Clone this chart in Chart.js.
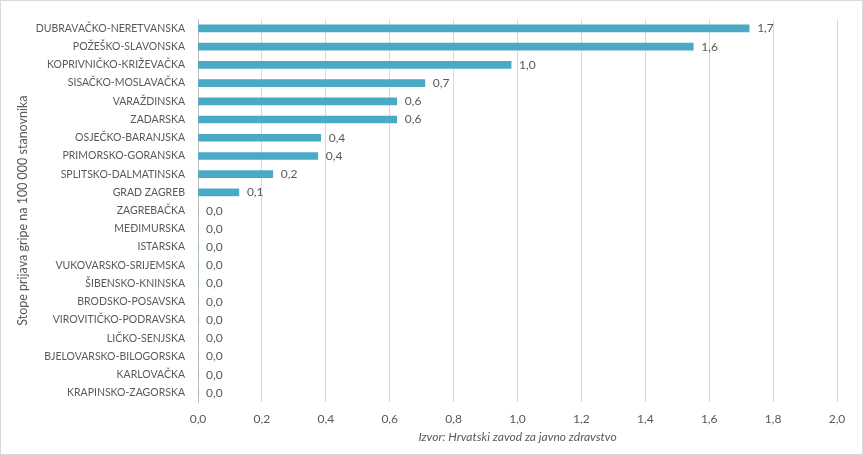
<!DOCTYPE html>
<html>
<head>
<meta charset="utf-8">
<script src="https://cdn.jsdelivr.net/npm/chart.js@4"></script>
<style>
  html, body { margin: 0; padding: 0; background: #ffffff; }
  #wrap { width: 863px; height: 455px; position: relative; }
</style>
</head>
<body>
<div id="wrap"><canvas id="c" width="863" height="455"></canvas></div>
<script>
const categories = [
  "DUBRAVAČKO-NERETVANSKA", "POŽEŠKO-SLAVONSKA", "KOPRIVNIČKO-KRIŽEVAČKA",
  "SISAČKO-MOSLAVAČKA", "VARAŽDINSKA", "ZADARSKA", "OSJEČKO-BARANJSKA",
  "PRIMORSKO-GORANSKA", "SPLITSKO-DALMATINSKA", "GRAD ZAGREB", "ZAGREBAČKA",
  "MEĐIMURSKA", "ISTARSKA", "VUKOVARSKO-SRIJEMSKA", "ŠIBENSKO-KNINSKA",
  "BRODSKO-POSAVSKA", "VIROVITIČKO-PODRAVSKA", "LIČKO-SENJSKA",
  "BJELOVARSKO-BILOGORSKA", "KARLOVAČKA", "KRAPINSKO-ZAGORSKA"
];
const rates = [1.725, 1.55, 0.98, 0.71, 0.622, 0.622, 0.384, 0.375, 0.234, 0.128,
  0, 0, 0, 0, 0, 0, 0, 0, 0, 0, 0];
const xTicks = [0, 0.2, 0.4, 0.6, 0.8, 1.0, 1.2, 1.4, 1.6, 1.8, 2.0];
const yTitle = "Stope prijava gripe na 100 000 stanovnika";
const xTitle = "Izvor: Hrvatski zavod za javno zdravstvo";

const FONT = "Lato, 'Open Sans', sans-serif";
const TXT = "#595959";
const fmt = v => v.toFixed(1).replace('.', ',');

const frame = {
  id: 'frame',
  beforeDraw(chart) {
    const ctx = chart.ctx;
    ctx.save();
    ctx.fillStyle = '#ffffff';
    ctx.fillRect(0, 0, chart.width, chart.height);
    ctx.strokeStyle = '#d9d9d9';
    ctx.lineWidth = 1;
    ctx.strokeRect(0.5, 0.5, chart.width - 1, chart.height - 1);
    ctx.restore();
  }
};

const valueLabels = {
  id: 'valueLabels',
  afterDatasetsDraw(chart) {
    const ctx = chart.ctx;
    const meta = chart.getDatasetMeta(0);
    ctx.save();
    ctx.font = "12px " + FONT;
    ctx.fillStyle = TXT;
    ctx.textAlign = 'left';
    ctx.textBaseline = 'middle';
    meta.data.forEach((bar, i) => {
      ctx.fillText(fmt(rates[i]), bar.x + 8, bar.y);
    });
    ctx.restore();
  }
};

new Chart(document.getElementById('c'), {
  type: 'bar',
  data: {
    labels: categories,
    datasets: [{
      data: rates,
      backgroundColor: '#4aaac5',
      borderWidth: 0,
      barThickness: 7
    }]
  },
  options: {
    indexAxis: 'y',
    responsive: false,
    animation: false,
    devicePixelRatio: 1,
    layout: { padding: { left: 0, right: 26, top: 15, bottom: 0 } },
    plugins: { legend: { display: false }, tooltip: { enabled: false } },
    scales: {
      x: {
        min: 0, max: 2.0,
        afterBuildTicks(scale) { scale.ticks = xTicks.map(v => ({ value: v })); },
        afterFit(scale) { scale.height = 53; },
        grid: { color: '#d9d9d9', drawTicks: false, lineWidth: 1 },
        border: { display: false },
        ticks: {
          padding: 10,
          color: TXT,
          font: { family: FONT, size: 12 },
          callback: v => fmt(v)
        },
        title: {
          display: true,
          text: xTitle,
          color: TXT,
          font: { family: FONT, size: 12, style: 'italic' },
          padding: { top: 0, bottom: 11 }
        }
      },
      y: {
        afterFit(scale) { scale.width = 198; },
        grid: { display: false, drawTicks: false },
        border: { display: true, color: '#bfbfbf', width: 1 },
        ticks: {
          padding: 13,
          color: TXT,
          autoSkip: false,
          font: { family: FONT, size: 10.5 }
        },
        title: {
          display: true,
          text: yTitle,
          color: TXT,
          font: { family: FONT, size: 12.5 },
          padding: { top: 15, bottom: 0 }
        }
      }
    }
  },
  plugins: [frame, valueLabels]
});
</script>
</body>
</html>
